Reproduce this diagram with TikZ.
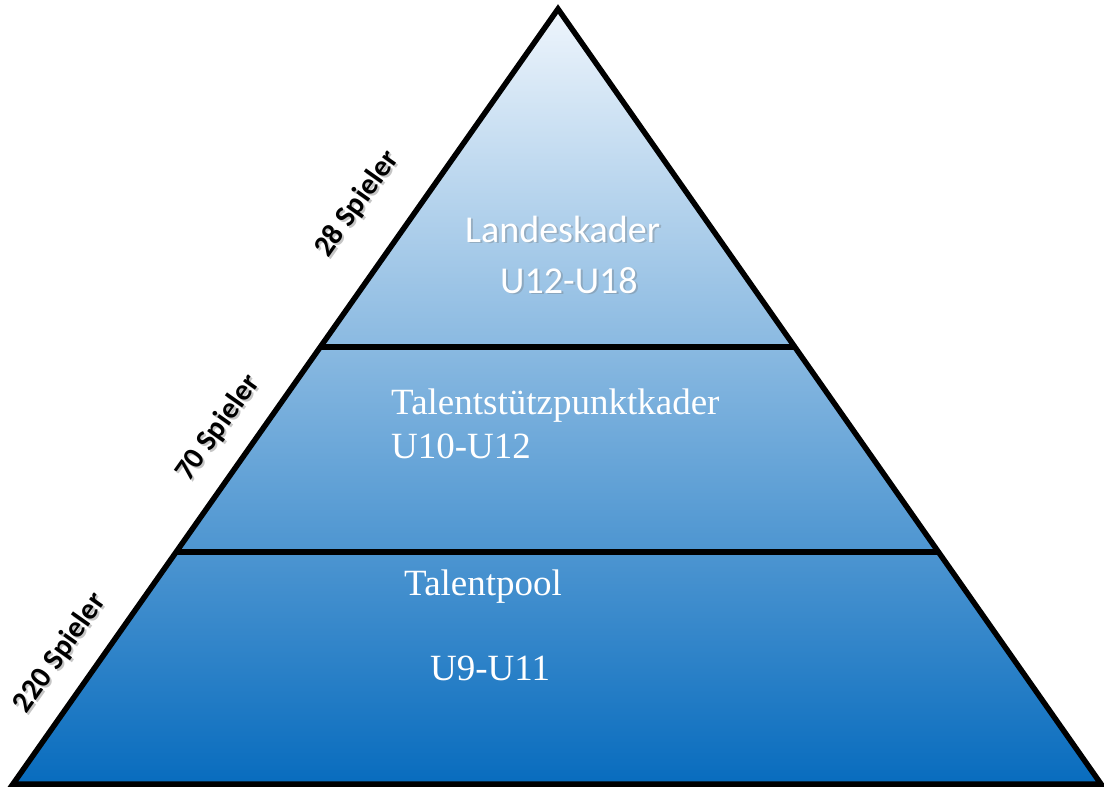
\documentclass[tikz,border=0pt]{standalone}
\usepackage{fontspec}
\setmainfont{Liberation Serif}
\newfontfamily\calib{Carlito}
\definecolor{ctop}{RGB}{238,245,252}
\definecolor{cmid}{RGB}{120,176,222}
\definecolor{cbot}{RGB}{8,108,190}
\tikzset{
  edge/.style={line width=5.5pt, line join=miter, black},
  sidelbl/.style={font=\calib\bfseries\fontsize{30}{32}\selectfont, rotate=54.8, inner sep=0},
  shadowlbl/.style={sidelbl, text=black!45, opacity=0.5},
  tierserif/.style={font=\fontsize{37}{40}\selectfont, text=white, anchor=base west, inner sep=0},
  tiersans/.style={font=\calib\fontsize{38}{40}\selectfont, text=white, anchor=base west, inner sep=0},
  tiershadow/.style={font=\calib\fontsize{38}{40}\selectfont, text=black!60, opacity=0.3, anchor=base west, inner sep=0}
}
\begin{document}
\begin{tikzpicture}[x=1pt,y=-1pt]
\useasboundingbox (0,0) rectangle (1104,787);
\coordinate (apex) at (558,9);
\coordinate (bl) at (13,784);
\coordinate (br) at (1101,784);
\coordinate (l1) at (321,347);
\coordinate (r1) at (796,347);
\coordinate (l2) at (176,552);
\coordinate (r2) at (940,552);
\shade[top color=ctop, middle color=cmid, bottom color=cbot] (apex) -- (br) -- (bl) -- cycle;
\draw[edge] (apex) -- (br) -- (bl) -- cycle;
\draw[edge] (l1) -- (r1);
\draw[edge] (l2) -- (r2);
% tier texts
\node[tiershadow] (lkS) at (467,243) {Landeskader};
\node[tiersans] (lk) at (465,242) {Landeskader};
\node[tiershadow] (u18S) at (502,294) {U12-U18};
\node[tiersans] (u18) at (500,293) {U12-U18};
\node[tierserif] (tsp) at (391,414) {Talentstützpunktkader};
\node[tierserif] (u12) at (391,458) {U10-U12};
\node[tierserif] (tp) at (404,595) {Talentpool};
\node[tierserif] (u11) at (430,680) {U9-U11};
% side labels
\node[shadowlbl] (s28S) at (359,206) {28 Spieler};
\node[sidelbl] (s28) at (357,204) {28 Spieler};
\node[shadowlbl] (s70S) at (220,430) {70 Spieler};
\node[sidelbl] (s70) at (218,428) {70 Spieler};
\node[shadowlbl] (s220S) at (62,655) {220 Spieler};
\node[sidelbl] (s220) at (60,653) {220 Spieler};
\end{tikzpicture}
\end{document}
